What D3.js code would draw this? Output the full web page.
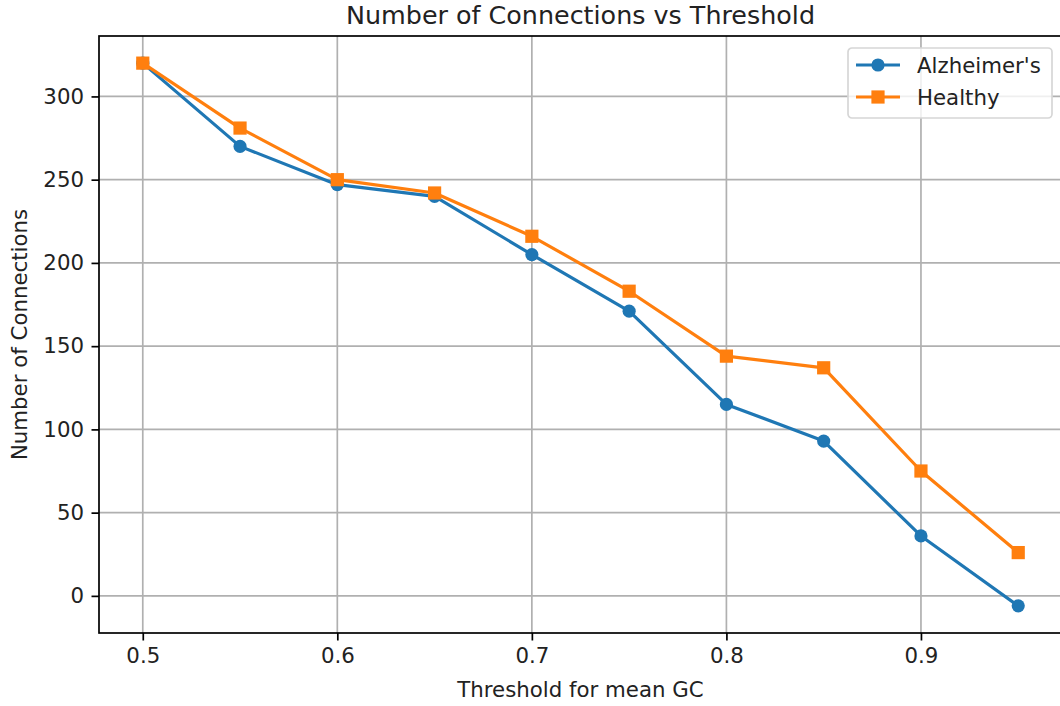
<!DOCTYPE html>
<html>
<head>
<meta charset="utf-8">
<script src="https://cdn.jsdelivr.net/npm/d3@7"></script>
<style>
  body { margin: 0; background: #fff; }
  svg { display: block; font-family: "DejaVu Sans", sans-serif; }
</style>
</head>
<body>
<svg id="chart" width="1060" height="706"></svg>
<script>
// Data
const thresholds = [0.5, 0.55, 0.6, 0.65, 0.7, 0.75, 0.8, 0.85, 0.9, 0.95];
const alzheimers = [320, 270, 247, 240, 205, 171, 115, 93, 36, -6];
const healthy = [320, 281, 250, 242, 216, 183, 144, 137, 75, 26];
const xTicks = [0.5, 0.6, 0.7, 0.8, 0.9];
const yTicks = [0, 50, 100, 150, 200, 250, 300];

const series = [
  { name: "Alzheimer's", values: alzheimers, color: "#1f77b4", marker: "circle" },
  { name: "Healthy", values: healthy, color: "#ff7f0e", marker: "square" }
];

const W = 1060, H = 706;
const plot = { left: 99, right: 1062, top: 36, bottom: 633 };
const fontSize = 21.3;

const svg = d3.select('#chart');

// matplotlib-style 5% margins
const xMin = d3.min(thresholds), xMax = d3.max(thresholds);
const xPad = (xMax - xMin) * 0.05;
const allY = alzheimers.concat(healthy);
const yMin = d3.min(allY), yMax = d3.max(allY);
const yPad = (yMax - yMin) * 0.05;

const x = d3.scaleLinear().domain([xMin - xPad, xMax + xPad]).range([plot.left, plot.right]);
const y = d3.scaleLinear().domain([yMin - yPad, yMax + yPad]).range([plot.bottom, plot.top]);

// grid
const grid = svg.append('g').attr('class', 'grid');
grid.selectAll('.vg').data(xTicks).join('line')
  .attr('x1', d => x(d)).attr('x2', d => x(d))
  .attr('y1', plot.top).attr('y2', plot.bottom)
  .attr('stroke', '#b0b0b0').attr('stroke-width', 1.7);
grid.selectAll('.hg').data(yTicks).join('line')
  .attr('x1', plot.left).attr('x2', plot.right)
  .attr('y1', d => y(d)).attr('y2', d => y(d))
  .attr('stroke', '#b0b0b0').attr('stroke-width', 1.7);

// series lines and markers
const line = d3.line().x((d, i) => x(thresholds[i])).y(d => y(d));
series.forEach(s => {
  svg.append('path')
    .attr('d', line(s.values))
    .attr('fill', 'none')
    .attr('stroke', s.color)
    .attr('stroke-width', 3.2)
    .attr('stroke-linejoin', 'round')
    .attr('stroke-linecap', 'square');
  const g = svg.append('g');
  if (s.marker === 'circle') {
    g.selectAll('circle').data(s.values).join('circle')
      .attr('cx', (d, i) => x(thresholds[i]))
      .attr('cy', d => y(d))
      .attr('r', 6.6)
      .attr('fill', s.color);
  } else {
    const side = 13.2;
    g.selectAll('rect').data(s.values).join('rect')
      .attr('x', (d, i) => x(thresholds[i]) - side / 2)
      .attr('y', d => y(d) - side / 2)
      .attr('width', side).attr('height', side)
      .attr('fill', s.color);
  }
});

// axes
const xAxis = d3.axisBottom(x).tickValues(xTicks).tickFormat(d3.format('.1f'))
  .tickSizeInner(7.5).tickSizeOuter(0).tickPadding(7.5);
const yAxis = d3.axisLeft(y).tickValues(yTicks).tickFormat(d3.format('d'))
  .tickSizeInner(7.5).tickSizeOuter(0).tickPadding(7.5);

const gx = svg.append('g').attr('transform', `translate(0,${plot.bottom})`).call(xAxis);
const gy = svg.append('g').attr('transform', `translate(${plot.left},0)`).call(yAxis);
[gx, gy].forEach(g => {
  g.selectAll('.domain').remove();
  g.selectAll('.tick line').attr('stroke', '#000').attr('stroke-width', 1.7);
  g.selectAll('.tick text').attr('fill', '#222').style('font-size', fontSize + 'px')
    .style('font-family', '"DejaVu Sans", sans-serif');
});

// spines
svg.append('rect')
  .attr('x', plot.left).attr('y', plot.top)
  .attr('width', plot.right - plot.left).attr('height', plot.bottom - plot.top)
  .attr('fill', 'none').attr('stroke', '#000').attr('stroke-width', 1.7);

// title and axis labels
svg.append('text')
  .attr('x', (plot.left + plot.right) / 2).attr('y', 24)
  .attr('text-anchor', 'middle')
  .style('font-size', '25.4px').attr('fill', '#222')
  .text('Number of Connections vs Threshold');

svg.append('text')
  .attr('x', (plot.left + plot.right) / 2).attr('y', 697)
  .attr('text-anchor', 'middle')
  .style('font-size', fontSize + 'px').attr('fill', '#222')
  .text('Threshold for mean GC');

svg.append('text')
  .attr('transform', `translate(27,${(plot.top + plot.bottom) / 2}) rotate(-90)`)
  .attr('text-anchor', 'middle')
  .style('font-size', fontSize + 'px').attr('fill', '#222')
  .text('Number of Connections');

// legend
const legend = svg.append('g').attr('transform', 'translate(848,48)');
legend.append('rect')
  .attr('width', 204).attr('height', 70)
  .attr('rx', 4).attr('ry', 4)
  .attr('fill', 'rgba(255,255,255,0.8)')
  .attr('stroke', '#d6d6d6').attr('stroke-width', 1.7);
series.forEach((s, i) => {
  const cy = 17 + i * 32;
  const row = legend.append('g').attr('transform', `translate(0,${cy})`);
  row.append('line')
    .attr('x1', 8).attr('x2', 52).attr('y1', 0).attr('y2', 0)
    .attr('stroke', s.color).attr('stroke-width', 3.2);
  if (s.marker === 'circle') {
    row.append('circle').attr('cx', 30).attr('cy', 0).attr('r', 6.6).attr('fill', s.color);
  } else {
    row.append('rect').attr('x', 30 - 6.6).attr('y', -6.6)
      .attr('width', 13.2).attr('height', 13.2).attr('fill', s.color);
  }
  row.append('text')
    .attr('x', 69).attr('y', 7.5)
    .style('font-size', fontSize + 'px').attr('fill', '#222')
    .text(s.name);
});
</script>
</body>
</html>
